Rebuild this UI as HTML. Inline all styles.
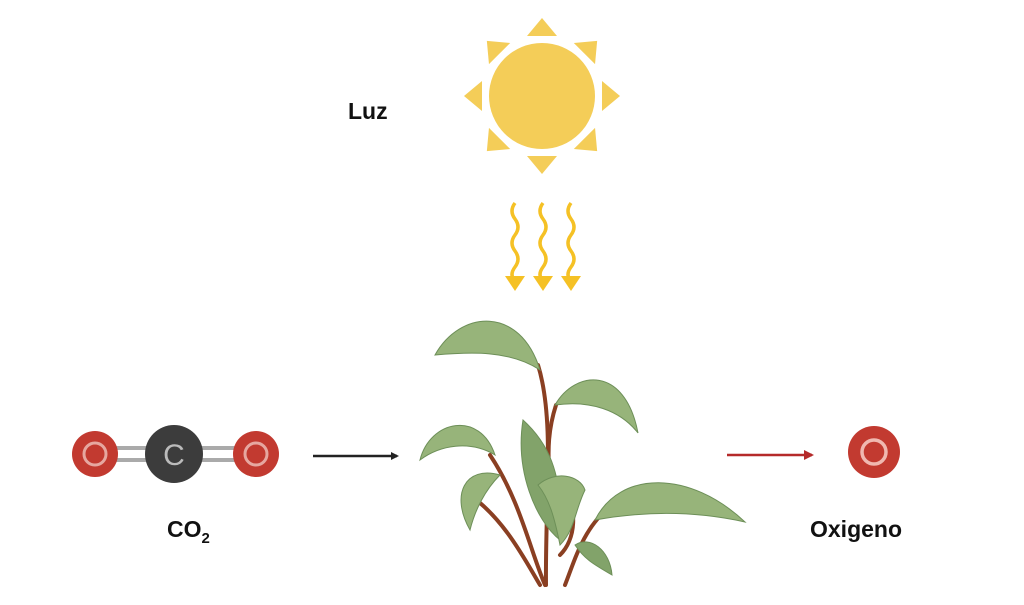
<!DOCTYPE html>
<html><head><meta charset="utf-8"><style>
html,body{margin:0;padding:0;background:#fff;width:1024px;height:605px;overflow:hidden}
text{font-family:"Liberation Sans",sans-serif;font-weight:bold;fill:#111}
</style></head><body>
<svg width="1024" height="605" viewBox="0 0 1024 605" xmlns="http://www.w3.org/2000/svg">
<defs>
<marker id="ab" markerWidth="8" markerHeight="8" refX="6" refY="4" orient="auto" markerUnits="userSpaceOnUse"><path d="M0,0 L8,4 L0,8 Z" fill="#222"/></marker>
<marker id="ar" markerWidth="10" markerHeight="10" refX="8" refY="5" orient="auto" markerUnits="userSpaceOnUse"><path d="M0,0 L10,5 L0,10 Z" fill="#b52a2a"/></marker>
</defs>
<!-- sun -->
<g fill="#f4cd58">
<circle cx="542" cy="96" r="53"/>
<g transform="translate(542,96)">
<path d="M-15,-60 L15,-60 L0,-78 Z"/>
<path d="M-15,60 L15,60 L0,78 Z"/>
<path d="M-60,-15 L-60,15 L-78,0 Z"/>
<path d="M60,-15 L60,15 L78,0 Z"/>
<g transform="rotate(45)"><path d="M-15,-60 L15,-60 L0,-78 Z"/><path d="M-15,60 L15,60 L0,78 Z"/><path d="M-60,-15 L-60,15 L-78,0 Z"/><path d="M60,-15 L60,15 L78,0 Z"/></g>
</g>
</g>
<!-- wavy rays -->
<g stroke="#f5c125" stroke-width="3.5" fill="none">
<path d="M515,203 q-6,8 0,16 q6,8 0,16 q-6,8 0,16 q6,8 0,16 q-6,8 0,14"/>
<path d="M543,203 q-6,8 0,16 q6,8 0,16 q-6,8 0,16 q6,8 0,16 q-6,8 0,14"/>
<path d="M571,203 q-6,8 0,16 q6,8 0,16 q-6,8 0,16 q6,8 0,16 q-6,8 0,14"/>
</g>
<g fill="#f5c125">
<path d="M505,276 L525,276 L515,291 Z"/><path d="M533,276 L553,276 L543,291 Z"/><path d="M561,276 L581,276 L571,291 Z"/>
</g>
<text x="348" y="119" font-size="23">Luz</text>
<!-- molecule -->
<g stroke="#aaa" stroke-width="4">
<line x1="110" y1="448" x2="240" y2="448"/><line x1="110" y1="460" x2="240" y2="460"/>
</g>
<circle cx="95" cy="454" r="23" fill="#c23a30"/>
<circle cx="95" cy="454" r="11" fill="none" stroke="#e6a7a0" stroke-width="3"/>
<circle cx="174" cy="454" r="29" fill="#3c3c3c"/>
<text x="174" y="465" font-size="30" text-anchor="middle" style="font-weight:normal;fill:#bbb">C</text>
<circle cx="256" cy="454" r="23" fill="#c23a30"/>
<circle cx="256" cy="454" r="11" fill="none" stroke="#e6a7a0" stroke-width="3"/>
<line x1="313" y1="456" x2="397" y2="456" stroke="#222" stroke-width="2.5" marker-end="url(#ab)"/>
<text x="167" y="537" font-size="23">CO<tspan font-size="15" dy="6">2</tspan></text>
<!-- plant -->
<g stroke="#8a3f22" stroke-width="4" fill="none" stroke-linecap="round">
<path d="M538,365 C555,420 545,500 546,585"/>
<path d="M490,455 C520,500 530,550 545,585"/>
<path d="M470,495 C505,520 525,560 540,585"/>
<path d="M620,500 C585,520 575,560 565,585"/>
<path d="M560,480 C580,510 575,540 560,555"/>
<path d="M556,405 C548,430 548,450 549,470"/>
</g>
<g fill="#97b47a" stroke="#6d8f58" stroke-width="1">
<path d="M435,355 C460,310 520,305 540,370 C510,350 470,352 435,355 Z"/>
<path d="M555,405 C575,370 625,365 638,433 C620,410 590,400 555,405 Z"/>
<path d="M420,460 C430,420 480,410 495,455 C470,440 440,445 420,460 Z"/>
<path d="M470,530 C450,495 465,465 500,475 C485,490 475,510 470,530 Z"/>
<path d="M523,420 C545,440 565,470 560,540 C535,520 515,470 523,420 Z" fill="#82a36a"/>
<path d="M538,485 C555,470 580,475 585,490 C575,510 575,530 560,545 C555,520 550,500 538,485 Z"/>
<path d="M595,520 C620,470 690,470 745,522 C700,512 650,510 595,520 Z"/>
<path d="M575,545 C590,535 610,550 612,575 C595,565 585,560 575,545 Z" fill="#82a36a"/>
</g>
<!-- oxygen -->
<line x1="727" y1="455" x2="812" y2="455" stroke="#b52a2a" stroke-width="2.5" marker-end="url(#ar)"/>
<circle cx="874" cy="452" r="26" fill="#c23a30"/>
<circle cx="874" cy="452" r="12" fill="none" stroke="#f0b8b0" stroke-width="3.5"/>
<text x="810" y="537" font-size="23">Oxigeno</text>
</svg>
</body></html>
